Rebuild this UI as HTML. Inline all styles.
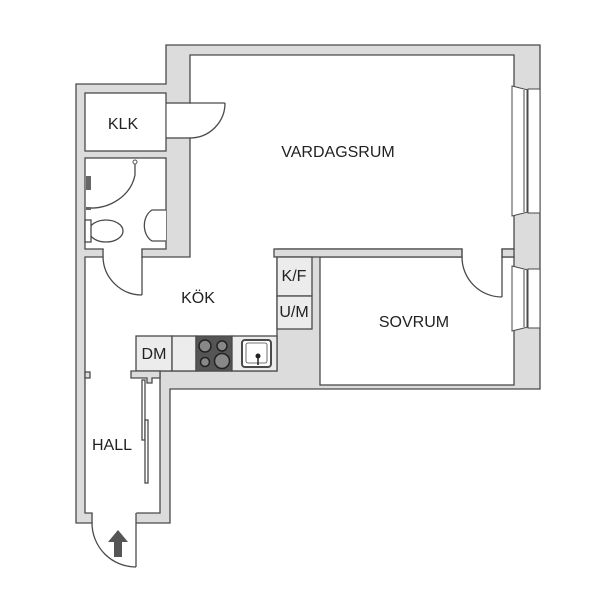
<!DOCTYPE html>
<html><head><meta charset="utf-8"><style>
html,body{margin:0;padding:0;background:#fff;width:615px;height:615px;overflow:hidden}
svg{display:block}
text{font-family:"Liberation Sans",Arial,sans-serif;font-size:16px;fill:#222}
</style></head><body>
<svg width="615" height="615" viewBox="0 0 615 615" xmlns="http://www.w3.org/2000/svg">
<g stroke="#4a4a4a" stroke-width="1.3">
<polygon points="166,45 540,45 540,389 170,389 170,523 76,523 76,84 166,84" fill="#dcdcdc"/>
<polygon points="190,55 514,55 514,249 277,249 277,371 160,371 160,513 85,513 85,257 190,257" fill="#fff"/>
<rect x="320" y="257" width="194" height="128" fill="#fff"/>
<rect x="85" y="93" width="81" height="58" fill="#fff"/>
<rect x="85" y="158" width="81" height="91" fill="#fff"/>
<rect x="274" y="249" width="188" height="8" fill="#dcdcdc"/>
<rect x="502" y="249" width="12" height="8" fill="#dcdcdc"/>
<rect x="277" y="257" width="35" height="39" fill="#ececec"/>
<rect x="277" y="296" width="35" height="33" fill="#ececec"/>
<rect x="136" y="336" width="36" height="35" fill="#ececec"/>
<rect x="172" y="336" width="24" height="35" fill="#ececec"/>
<rect x="196" y="336" width="36" height="35" fill="#555"/>
<rect x="232" y="336" width="45" height="35" fill="#ececec"/>
<rect x="242" y="340" width="29" height="27" rx="3" fill="#fff" stroke-width="2"/>
<rect x="246" y="343" width="21" height="20" rx="2" fill="#fff" stroke-width="0.8"/>
<polygon points="131,371 160,371 160,378 152,378 152,383 147,383 147,378 131,378" fill="#dcdcdc"/>
<rect x="85" y="372" width="5" height="6" fill="#dcdcdc"/>
</g>
<g stroke="#222" stroke-width="1.5" fill="#888">
<circle cx="205" cy="346" r="6"/><circle cx="222" cy="346" r="5"/>
<circle cx="205" cy="362" r="4.5"/><circle cx="222" cy="361" r="7.5"/>
</g>
<circle cx="258" cy="356" r="2.5" fill="#222"/><line x1="258" y1="356" x2="258" y2="365" stroke="#222" stroke-width="1.5"/>
<g fill="#fff">
<rect x="166.7" y="103.7" width="25" height="33.6"/>
<rect x="103.7" y="248" width="37.6" height="10"/>
<rect x="462.7" y="248" width="38.6" height="10"/>
<rect x="92.7" y="512" width="43.6" height="12"/>
</g>
<g stroke="#4a4a4a" stroke-width="1.3" fill="none">
<line x1="166" y1="138" x2="190" y2="138"/>
<line x1="103" y1="249" x2="103" y2="257"/><line x1="142" y1="249" x2="142" y2="257"/>
<line x1="462" y1="249" x2="462" y2="257"/><line x1="502" y1="249" x2="502" y2="257"/>
<line x1="92" y1="513" x2="92" y2="523"/><line x1="136" y1="513" x2="136" y2="523"/>
<line x1="166" y1="103" x2="225" y2="103"/>
<path d="M225,103 A35,35 0 0 1 190,138"/>
<line x1="142" y1="257" x2="142" y2="295"/>
<path d="M142,295 A39,39 0 0 1 103,257"/>
<line x1="502" y1="257" x2="502" y2="297"/>
<path d="M502,297 A40,40 0 0 1 462,257"/>
<line x1="136" y1="523" x2="136" y2="567"/>
<path d="M136,567 A44,44 0 0 1 92,523"/>
<path d="M135,162 L135,175 A45,40 0 0 1 88,208"/>
<ellipse cx="106" cy="231" rx="17" ry="11" fill="#fff"/>
<rect x="85" y="220" width="6" height="22" fill="#fff"/>
<path d="M166,210 L152,210 A13,17 0 0 0 152,241 L166,241" fill="#fff"/>
<rect x="142" y="380" width="3" height="60" fill="#fff"/>
<rect x="145" y="420" width="3" height="63" fill="#fff"/>
</g>
<circle cx="135" cy="162" r="2" fill="#fff" stroke="#555"/>
<rect x="86" y="176" width="5" height="14" fill="#666"/>
<rect x="86" y="207" width="5" height="3" fill="#666"/>
<g stroke="#4a4a4a" stroke-width="1">
<polygon points="512,86 528,90 528,212 512,216" fill="#fff"/>
<rect x="528" y="89" width="12" height="124" fill="#fff"/>
<line x1="524" y1="90" x2="524" y2="212"/><line x1="527" y1="90" x2="527" y2="212"/>
<polygon points="512,266 528,270 528,327 512,331" fill="#fff"/>
<rect x="528" y="269" width="12" height="59" fill="#fff"/>
<line x1="524" y1="270" x2="524" y2="327"/><line x1="527" y1="270" x2="527" y2="327"/>
</g>
<polygon points="118,530 128,542 122,542 122,557 114,557 114,542 108,542" fill="#555"/>
<text x="123" y="129" text-anchor="middle">KLK</text>
<text x="338" y="157" text-anchor="middle">VARDAGSRUM</text>
<text x="198" y="303" text-anchor="middle">KÖK</text>
<text x="414" y="327" text-anchor="middle">SOVRUM</text>
<text x="112" y="450" text-anchor="middle">HALL</text>
<text x="294" y="281" text-anchor="middle">K/F</text>
<text x="294" y="317" text-anchor="middle">U/M</text>
<text x="154" y="359" text-anchor="middle">DM</text>
</svg>
</body></html>
